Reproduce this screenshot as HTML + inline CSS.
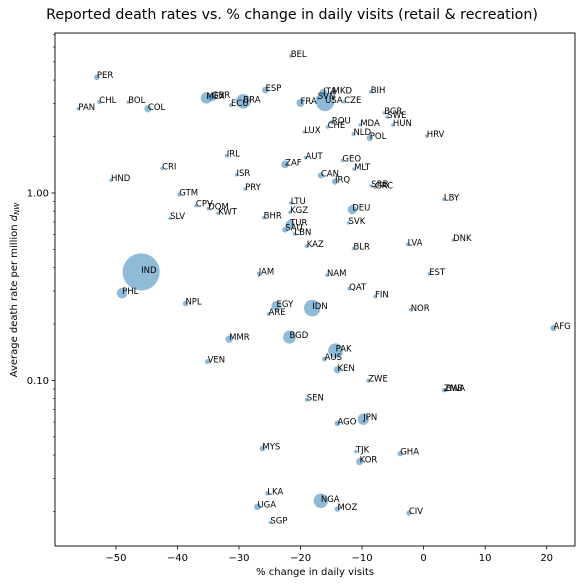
<!DOCTYPE html>
<html><head><meta charset="utf-8"><style>
html,body{margin:0;padding:0;background:#fff;}
svg{display:block;font-family:"DejaVu Sans","Liberation Sans",sans-serif;}
</style></head><body>
<svg id="chart" width="584" height="584" viewBox="0 0 584 584" xmlns="http://www.w3.org/2000/svg">
<rect x="0" y="0" width="584" height="584" fill="#fff"/>
<text x="292" y="19" text-anchor="middle" font-size="14.2" fill="#000">Reported death rates vs. % change in daily visits  (retail &amp; recreation)</text>
<g id="marks"></g>
<g id="labels"></g>
<g id="axes"></g>
<text x="315" y="575" text-anchor="middle" font-size="10" fill="#000">% change in daily visits</text>
<text transform="translate(17,290) rotate(-90)" text-anchor="middle" font-size="10" fill="#000">Average death rate per million <tspan font-style="italic">d</tspan><tspan font-size="7" dy="2" font-style="italic">NW</tspan></text>
</svg>
<script>
const countries=["BEL","PER","CHL","BOL","PAN","COL","MEX","GBR","ECU","BRA","ESP","FRA","LUX","IRL","AUT","ZAF","CRI","HND","ISR","PRY","GTM","CPV","DOM","KWT","SLV","BHR","LTU","KGZ","TUR","SAU","LBN","KAZ","JAM","IND","PHL","ITA","MKD","SVN","USA","CZE","BIH","BGR","SWE","HUN","ROU","CHE","MDA","NLD","POL","HRV","GEO","MLT","CAN","IRQ","SRB","GRC","LBY","DEU","SVK","BLR","LVA","DNK","NAM","EST","QAT","FIN","NOR","AFG","ZWE","ZMB","BWA","JPN","TJK","GHA","KOR","CIV","NGA","MOZ","NPL","EGY","ARE","IDN","MMR","BGD","PAK","AUS","KEN","VEN","SEN","AGO","MYS","LKA","UGA","SGP"];
const visitChange=[-21.6,-53.1,-52.7,-48.0,-56.1,-44.8,-35.3,-34.4,-31.3,-29.3,-25.7,-20.0,-19.4,-32.0,-19.2,-22.5,-42.5,-50.8,-30.4,-29.0,-39.7,-37.0,-35.0,-33.4,-41.2,-26.0,-21.6,-21.7,-21.7,-22.5,-21.0,-19.0,-26.8,-45.9,-49.0,-16.3,-14.8,-17.2,-16.0,-12.9,-8.6,-6.4,-5.9,-5.0,-14.9,-15.6,-10.3,-11.4,-8.75,0.5,-13.2,-11.3,-16.7,-14.4,-8.5,-7.9,3.3,-11.6,-12.2,-11.4,-2.6,4.8,-15.7,0.9,-12.1,-7.9,-2.1,21.1,-9.0,3.3,3.6,-9.8,-11.0,-3.8,-10.4,-2.4,-16.7,-14.0,-38.7,-23.9,-25.2,-18.1,-31.6,-21.8,-14.3,-16.1,-14.0,-35.1,-19.0,-14.0,-26.2,-25.4,-27.0,-24.9];
const deathRate=[5.38,4.14,3.05,3.05,2.81,2.81,3.21,3.24,2.94,3.08,3.54,3.02,2.11,1.58,1.54,1.42,1.35,1.17,1.25,1.05,0.98,0.855,0.824,0.779,0.733,0.738,0.885,0.789,0.678,0.637,0.604,0.52,0.371,0.379,0.292,3.42,3.44,3.21,3.05,3.06,3.46,2.67,2.54,2.30,2.38,2.25,2.31,2.06,1.96,2.01,1.49,1.34,1.24,1.15,1.09,1.07,0.925,0.815,0.692,0.505,0.532,0.56,0.364,0.370,0.308,0.28,0.238,0.19,0.0998,0.0887,0.0887,0.0621,0.0417,0.0407,0.0369,0.0196,0.0228,0.0206,0.257,0.25,0.226,0.243,0.166,0.17,0.144,0.130,0.114,0.126,0.079,0.0591,0.0433,0.025,0.0212,0.0175];
const population=[11.5,33,19,12,4,51,128,67,17,212,47,65,0.6,5,9,59,5,10,9,7,18,0.5,11,4,6.5,1.7,2.8,6.5,84,35,7,19,3,1380,110,60,2,2,330,10.7,3.3,7,10,9.7,19,8.6,2.6,17,38,4,4,0.5,38,40,7,10.4,7,83,5.5,9.4,1.9,5.8,2.5,1.3,2.9,5.5,5.4,39,15,18,2.4,126,9.5,31,52,26,206,31,29,102,10,273,54,165,220,25,54,28,17,33,32,21,46,5.7];
const xTicks=[-50,-40,-30,-20,-10,0,10,20];
const yTicks=[1,0.1];
const yTickLabels=["1.00","0.10"];

const NS="http://www.w3.org/2000/svg";
const L=55,R=575,T=33,B=546;
const xMin=-59.9,xMax=24.6;
const yLogMax=0.853,yLogMin=-1.883;
function xs(v){return L+(v-xMin)/(xMax-xMin)*(R-L);}
function ys(v){return T+(yLogMax-Math.log10(v))/(yLogMax-yLogMin)*(B-T);}
function mk(tag,attrs,parent){const e=document.createElementNS(NS,tag);for(const k in attrs)e.setAttribute(k,attrs[k]);parent.appendChild(e);return e;}
const marks=document.getElementById('marks'),labels=document.getElementById('labels'),axes=document.getElementById('axes');
for(let i=0;i<countries.length;i++){
  const cx=xs(visitChange[i]),cy=ys(deathRate[i]);
  const r=Math.max(1.8,0.5*Math.sqrt(population[i]));
  const c=mk('circle',{cx:cx,cy:cy,r:r,fill:'#1f77b4','fill-opacity':0.5},marks);
  
  
  const t=mk('text',{x:cx,y:cy+1,'font-size':8.5,fill:'#000'},labels);
  t.textContent=countries[i];
  
  
}
const frame=mk('rect',{x:L,y:T,width:R-L,height:B-T,fill:'none',stroke:'#000','stroke-width':0.9},axes);


xTicks.forEach(v=>{
  const x=xs(v);
  const tk=mk('line',{x1:x,x2:x,y1:B,y2:B+3.5,stroke:'#000','stroke-width':0.8},axes);
  
  
  const t=mk('text',{x:x,y:B+15,'text-anchor':'middle','font-size':10,fill:'#000'},axes);
  t.textContent=(v<0?'\u2212'+Math.abs(v):String(v));
  
  
});
yTicks.forEach((v,i)=>{
  const y=ys(v);
  const tk=mk('line',{x1:L-3.5,x2:L,y1:y,y2:y,stroke:'#000','stroke-width':0.8},axes);
  
  
  const t=mk('text',{x:L-6,y:y+3.5,'text-anchor':'end','font-size':10,fill:'#000'},axes);
  t.textContent=yTickLabels[i];
  
  
});
for(let d=-2;d<=0;d++){for(let m=2;m<=9;m++){
  const v=m*Math.pow(10,d);const lv=Math.log10(v);
  if(lv<yLogMin||lv>yLogMax)continue;
  const y=ys(v);
  const tk=mk('line',{x1:L-2,x2:L,y1:y,y2:y,stroke:'#000','stroke-width':0.6},axes);
  
  
}}
</script>
</body></html>
